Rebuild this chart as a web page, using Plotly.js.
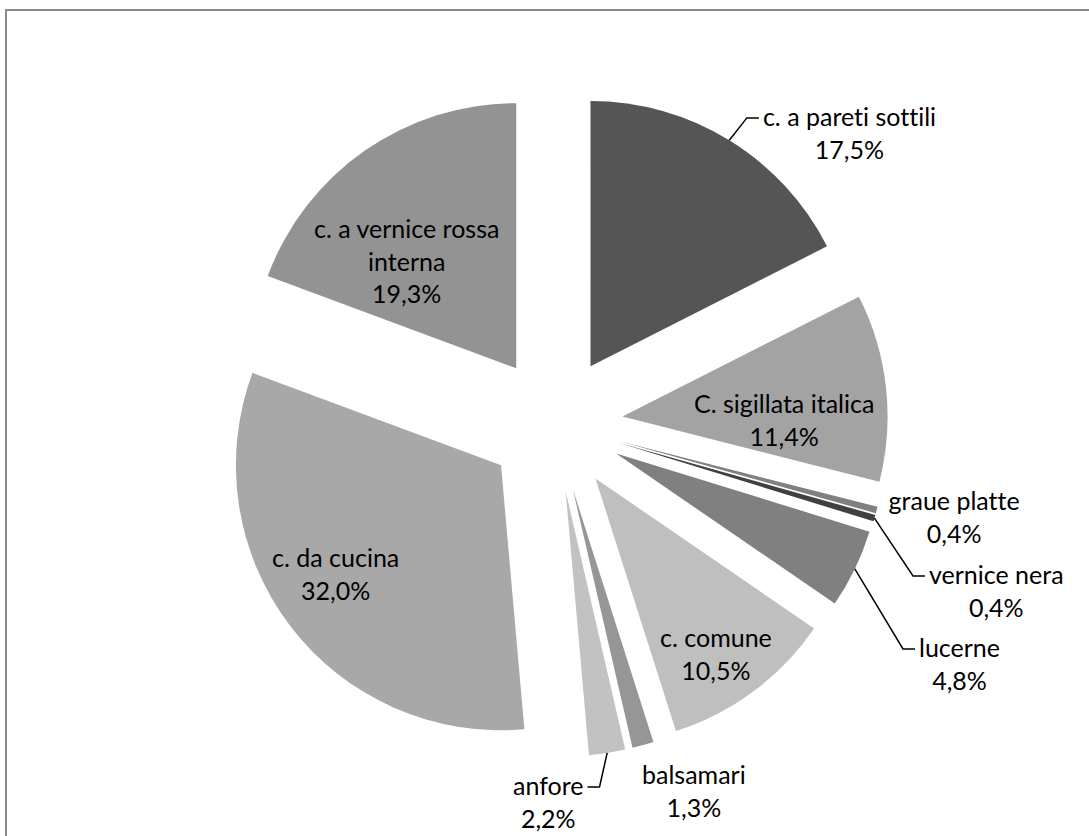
<!DOCTYPE html>
<html>
<head>
<meta charset="utf-8">
<script src="https://cdn.plot.ly/plotly-3.0.1.min.js"></script>
<style>
  html, body { margin: 0; padding: 0; background: #ffffff; overflow: hidden; }
  #wrap { position: relative; width: 1089px; height: 836px; }
  #chart { position: absolute; left: 0; top: 0; width: 1089px; height: 836px; }
  #frame { position: absolute; left: 5px; top: 9px; width: 1200px; height: 1000px;
           border: 2px solid #8a8a8a; pointer-events: none; }
  #chart text { font-variant-ligatures: none; font-feature-settings: "liga" 0, "clig" 0; }
</style>
</head>
<body>
<div id="wrap">
  <div id="chart"></div>
  <div id="frame"></div>
</div>
<script>
// ---- Data (clockwise from 12 o'clock) ----
const categories = [
  "c. a pareti sottili",
  "C. sigillata italica",
  "graue platte",
  "vernice nera",
  "lucerne",
  "c. comune",
  "balsamari",
  "anfore",
  "c. da cucina",
  "c. a vernice rossa<br>interna"
];
const percentages = [17.5, 11.4, 0.4, 0.4, 4.8, 10.5, 1.3, 2.2, 32.0, 19.3];

// ---- Styles ----
const sliceColors = ["#555555", "#a3a3a3", "#808080", "#404040", "#808080",
                     "#bfbfbf", "#969696", "#c2c2c2", "#a8a8a8", "#939393"];
const explode = 0.256;
// label block centre offset (px) from each slice's outer mid-point
const labelOffsets = [[120, -8], [-102, 32], [77, 6], [122, 72], [105, 95],
                      [-38, -38], [51, 45], [-59, 49], [45, -52], [42, 110]];
const hasLeader = [true, false, false, true, true, false, false, true, false, false];
const FONT = { family: "Lato, 'DejaVu Sans', sans-serif", size: 25, color: "#000000" };

const trace = {
  type: "pie",
  labels: categories,
  values: percentages,
  sort: false,
  direction: "clockwise",
  rotation: 0,
  pull: percentages.map(() => explode),
  marker: { colors: sliceColors, line: { width: 0 } },
  textinfo: "none",
  automargin: false,
  showlegend: false,
  hoverinfo: "label+value",
  domain: { x: [222 / 1089, 888 / 1089], y: [79 / 836, 745 / 836] }
};

const layout = {
  width: 1089,
  height: 836,
  margin: { l: 0, r: 0, t: 0, b: 0 },
  paper_bgcolor: "#ffffff",
  separators: ",.",
  showlegend: false
};

const gd = document.getElementById("chart");
const fmt = v => v.toFixed(1).replace(".", ",") + "%";

Plotly.newPlot(gd, [trace], layout, { displayModeBar: false, staticPlot: true }).then(() => {
  const W = layout.width, H = layout.height;
  const cdTrace = gd.calcdata[0];
  const cd0 = cdTrace[0];
  const edges = [];
  cdTrace.forEach((pt, k) => {
    const i = (pt.i !== undefined) ? pt.i : k;
    const pull = trace.pull[i];
    edges[i] = [cd0.cx + pt.pxmid[0] * (1 + pull), cd0.cy + pt.pxmid[1] * (1 + pull)];
  });
  const annotations = categories.map((name, i) => ({
    xref: "paper", yref: "paper",
    x: (edges[i][0] + labelOffsets[i][0]) / W,
    y: 1 - (edges[i][1] + labelOffsets[i][1]) / H,
    xanchor: "center", yanchor: "middle", align: "center",
    showarrow: false,
    text: name + "<br>" + fmt(percentages[i]),
    font: FONT
  }));
  return Plotly.relayout(gd, { annotations }).then(() => {
    const base = gd.getBoundingClientRect();
    const shapes = [];
    categories.forEach((name, i) => {
      if (!hasLeader[i]) return;
      const el = gd.querySelector('g.annotation[data-index="' + i + '"] text.annotation-text');
      if (!el) return;
      const bb = el.getBoundingClientRect();
      const left = bb.left - base.left, right = bb.right - base.left, top = bb.top - base.top;
      const y1 = top + bb.height * 0.27;
      const [ex, ey] = edges[i];
      let sx0, sx1;
      if (left > ex) { sx1 = left - 4; sx0 = left - 16; }
      else { sx1 = right + 4; sx0 = right + 16; }
      const p = (x, y) => (x / W).toFixed(5) + "," + (1 - y / H).toFixed(5);
      shapes.push({
        type: "path", xref: "paper", yref: "paper",
        path: "M" + p(ex, ey) + " L" + p(sx0, y1) + " L" + p(sx1, y1),
        line: { color: "#000000", width: 1.5 }
      });
    });
    return Plotly.relayout(gd, { shapes });
  });
});
</script>
</body>
</html>
